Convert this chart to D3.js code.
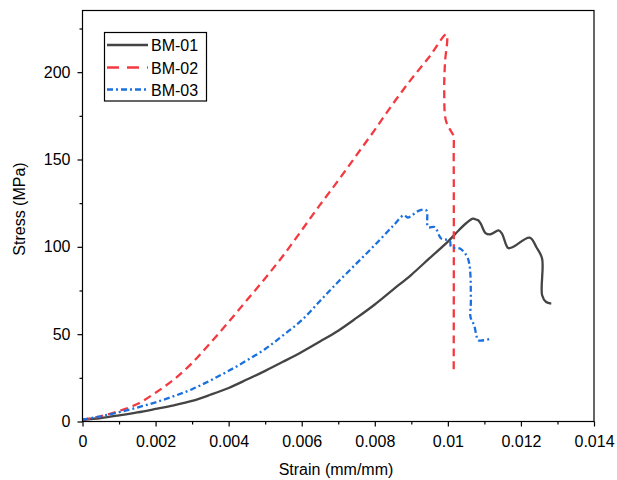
<!DOCTYPE html>
<html><head><meta charset="utf-8">
<script src="https://cdn.jsdelivr.net/npm/d3@7"></script>
<style>body{margin:0;background:#fff}svg{display:block}text{font-family:"Liberation Sans",Arial,sans-serif}</style>
</head><body><svg id="c" width="617" height="480"></svg>
<script>
const seriesNames = ["BM-01","BM-02","BM-03"];
const xTicks = [0,0.002,0.004,0.006,0.008,0.01,0.012,0.014];
const xTickLabels = ["0","0.002","0.004","0.006","0.008","0.01","0.012","0.014"];
const yTicks = [0,50,100,150,200];
const yTickLabels = ["0","50","100","150","200"];

const bm01Strain = [0,0.0005,0.001,0.0015,0.002,0.0025,0.003,0.0035,0.004,0.0045,0.005,0.0055,0.006,0.0065,0.007,0.0075,0.008,0.0085,0.009,0.0095,0.01,0.0103,0.0105,0.01069,0.01078,0.01083,0.0109,0.01103,0.01117,0.01139,0.01148,0.01165,0.01178,0.01224,0.01242,0.01258,0.01258,0.01269,0.01283];
const bm01Stress = [1,2,3.5,5.2,7.2,9.3,11.8,15.3,19.2,24,29,34.3,39.8,45.8,52,59.3,67,75.5,84,93.5,103,109.5,113.5,116.1,115.5,115.2,113.3,107.9,107.2,109.4,107.6,99.3,99.9,105.3,99.9,93.2,72.3,68.4,67.5];

const bm02Strain = [0,0.0005,0.001,0.0015,0.002,0.0025,0.003,0.0035,0.004,0.0045,0.005,0.0055,0.006,0.0065,0.007,0.0075,0.008,0.0085,0.009,0.0095,0.00996,0.00992,0.0099,0.00995,0.01012,0.01015,0.01016,0.01016];
const bm02Stress = [1,3,6,10,16.5,24,33.5,45,57,69.5,82,95.2,109.5,124,138,152.5,167,182,196,209,221.6,205,190,172,165,163.8,150,29.4];

const bm03Strain = [0,0.0005,0.001,0.0015,0.002,0.0025,0.003,0.0035,0.004,0.0045,0.005,0.0055,0.006,0.0065,0.007,0.0075,0.008,0.0085,0.0088,0.0089,0.00923,0.00941,0.00946,0.00964,0.00982,0.01005,0.01009,0.01033,0.01055,0.01063,0.01062,0.01072,0.01078,0.01083,0.0112];
const bm03Stress = [1,3,5.3,8,11,14.5,18.5,23.5,29,35,41.5,49.5,58,69,80,90.5,101,112,118.1,116.8,120.9,120.9,111.3,111.3,104.7,103.7,99.9,99,93.2,69.4,59.8,55.1,49.4,46.5,47.5];

const svg = d3.select("#c");
const L=82.5, R=594, T=10.5, B=421.5;
const x = d3.scaleLinear().domain([0,0.014]).range([L,R]);
const y = d3.scaleLinear().domain([0,235.3]).range([B,T]);

const styles = [
  {color:"#444444", dash:null},
  {color:"#f23a40", dash:"8,5"},
  {color:"#1b70de", dash:"6,3,2,3"}
];
const data = [
  bm01Strain.map((s,i)=>[s,bm01Stress[i]]),
  bm02Strain.map((s,i)=>[s,bm02Stress[i]]),
  bm03Strain.map((s,i)=>[s,bm03Stress[i]])
];
const line = d3.line().x(d=>x(d[0])).y(d=>y(d[1])).curve(d3.curveCatmullRom.alpha(0.5));

data.forEach((d,i)=>{
  svg.append("path").attr("d",line(d)).attr("fill","none")
    .attr("stroke",styles[i].color).attr("stroke-width",2.3)
    .attr("stroke-linejoin","round")
    .attr("stroke-dasharray",styles[i].dash);
});

// frame
svg.append("rect").attr("x",L).attr("y",T).attr("width",R-L).attr("height",B-T)
  .attr("fill","none").attr("stroke","#000").attr("stroke-width",1.2);

// axes
const xAxis = d3.axisBottom(x).tickValues(xTicks).tickFormat((d,i)=>xTickLabels[i]).tickSize(5).tickPadding(9);
svg.append("g").attr("transform",`translate(0,${B})`).call(xAxis);
const xMinor = d3.axisBottom(x).tickValues(d3.range(1,14,2).map(v=>v*0.001)).tickFormat("").tickSize(3);
svg.append("g").attr("transform",`translate(0,${B})`).call(xMinor);
const yAxis = d3.axisLeft(y).tickValues(yTicks).tickFormat((d,i)=>yTickLabels[i]).tickSize(5).tickPadding(7);
svg.append("g").attr("transform",`translate(${L},0)`).call(yAxis);
const yMinor = d3.axisLeft(y).tickValues([25,75,125,175,225]).tickFormat("").tickSize(3);
svg.append("g").attr("transform",`translate(${L},0)`).call(yMinor);
svg.selectAll(".domain").remove();
svg.selectAll(".tick line").attr("stroke","#000").attr("stroke-width",1.2);
svg.selectAll(".tick text").attr("font-size",16).attr("fill","#000")
  .attr("font-family","'Liberation Sans',Arial,sans-serif");

// axis titles
svg.append("text").attr("x",336).attr("y",475).attr("text-anchor","middle")
  .attr("font-size",16).text("Strain (mm/mm)");
svg.append("text").attr("transform","translate(25,209) rotate(-90)").attr("text-anchor","middle")
  .attr("font-size",16).text("Stress (MPa)");

// legend
const lg = svg.append("g");
lg.append("rect").attr("x",104.5).attr("y",32.5).attr("width",102).attr("height",68.5)
  .attr("fill","#fff").attr("stroke","#000").attr("stroke-width",1.2);
const rowsY=[45,67.5,89.5];
seriesNames.forEach((n,i)=>{
  lg.append("line").attr("x1",107).attr("x2",148).attr("y1",rowsY[i]).attr("y2",rowsY[i])
    .attr("stroke",styles[i].color).attr("stroke-width",2.3)
    .attr("stroke-dasharray",i===1?"12,8":styles[i].dash);
  lg.append("text").attr("x",151).attr("y",rowsY[i]+6).attr("font-size",16).text(n);
});
</script></body></html>
